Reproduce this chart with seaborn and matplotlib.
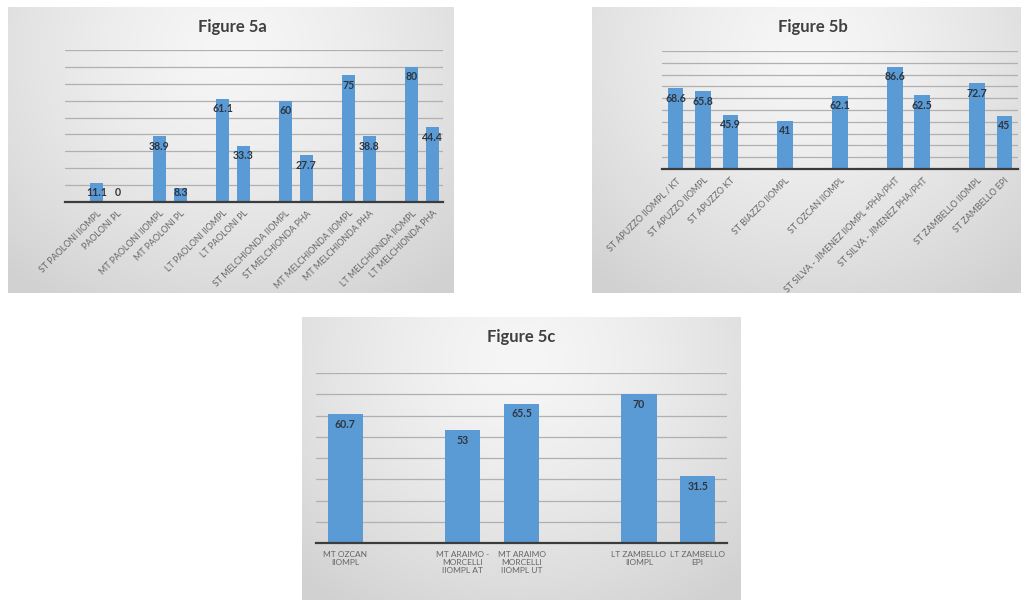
import numpy as np
import pandas as pd
import matplotlib
matplotlib.use("Agg")
import matplotlib.pyplot as plt
import seaborn as sns

# ---------------- data ----------------
labels_a = ["ST PAOLONI IIOMPL", "PAOLONI PL",
            "MT PAOLONI IIOMPL", "MT PAOLONI PL",
            "LT PAOLONI IIOMPL", "LT PAOLONI PL",
            "ST MELCHIONDA IIOMPL", "ST MELCHIONDA PHA",
            "MT MELCHIONDA IIOMPL", "MT MELCHIONDA PHA",
            "LT MELCHIONDA IIOMPL", "LT MELCHIONDA PHA"]
values_a = [11.1, 0, 38.9, 8.3, 61.1, 33.3, 60, 27.7, 75, 38.8, 80, 44.4]
value_text_a = ["11.1", "0", "38.9", "8.3", "61.1", "33.3", "60", "27.7", "75", "38.8", "80", "44.4"]
# category order (blank slots separate the groups)
order_a = ["", labels_a[0], labels_a[1], " ", labels_a[2], labels_a[3],
           "  ", labels_a[4], labels_a[5], "   ", labels_a[6], labels_a[7],
           "    ", labels_a[8], labels_a[9], "     ", labels_a[10], labels_a[11]]

labels_b = ["ST APUZZO IIOMPL / KT", "ST APUZZO IIOMPL", "ST APUZZO KT",
            "ST BIAZZO IIOMPL", "ST OZCAN IIOMPL",
            "ST SILVA - JIMENEZ IIOMPL +PHA/PHT", "ST SILVA - JIMENEZ PHA/PHT",
            "ST ZAMBELLO IIOMPL", "ST ZAMBELLO EPI"]
values_b = [68.6, 65.8, 45.9, 41, 62.1, 86.6, 62.5, 72.7, 45]
value_text_b = ["68.6", "65.8", "45.9", "41", "62.1", "86.6", "62.5", "72.7", "45"]
order_b = [labels_b[0], labels_b[1], labels_b[2], "", labels_b[3], " ",
           labels_b[4], "  ", labels_b[5], labels_b[6], "   ", labels_b[7], labels_b[8]]

labels_c = ["MT OZCAN\nIIOMPL", "MT ARAIMO -\nMORCELLI\nIIOMPL AT",
            "MT ARAIMO\nMORCELLI\nIIOMPL UT", "LT ZAMBELLO\nIIOMPL", "LT ZAMBELLO\nEPI"]
values_c = [60.7, 53, 65.5, 70, 31.5]
value_text_c = ["60.7", "53", "65.5", "70", "31.5"]
order_c = [labels_c[0], "", labels_c[1], labels_c[2], " ", labels_c[3], labels_c[4]]

titles = ["Figure 5a", "Figure 5b", "Figure 5c"]
ymax = [90, 100, 80]

# ---------------- style ----------------
sns.set_style("white")
plt.rcParams["font.family"] = ["Lato", "DejaVu Sans"]

W, H = 1021, 601
fig = plt.figure(figsize=(W / 100, H / 100), dpi=100)
fig.patch.set_facecolor("white")

BAR = "#5b9bd5"
TXT = "#2e3540"
TICK = "#666666"


def rect(x0, y0, x1, y1):
    return [x0 / W, 1 - y1 / H, (x1 - x0) / W, (y1 - y0) / H]


def panel_bg(x0, y0, x1, y1):
    bg = fig.add_axes(rect(x0, y0, x1, y1), zorder=0)
    ny, nx = 200, 300
    yy, xx = np.mgrid[0:1:ny * 1j, 0:1:nx * 1j]
    d = np.sqrt(((xx - 0.5) / 0.75) ** 2 + ((yy - 0.15) / 1.05) ** 2)
    d = np.clip(d, 0, 1)
    lo, hi = 0.965, 0.82
    img = lo + (hi - lo) * d ** 1.4
    rgb = np.dstack([img, img, img])
    bg.imshow(rgb, aspect="auto", extent=(0, 1, 1, 0), interpolation="bilinear")
    bg.set_axis_off()
    return bg


def draw(ax, labels, values, vtexts, order, ym, width, rotate, title, title_xy, tsize):
    df = pd.DataFrame({"cat": labels, "val": values})
    sns.barplot(data=df, x="cat", y="val", order=order, color=BAR,
                saturation=1, width=width, ax=ax, zorder=3)
    for p in ax.patches:
        p.set_edgecolor("none")
    n = len(order)
    ax.set_xlim(-0.5, n - 0.5)
    ax.set_ylim(0, ym)
    ax.set_facecolor("none")
    ax.set_yticks(np.arange(10, ym + 1, 10))
    ax.set_yticklabels([])
    ax.tick_params(axis="y", length=0)
    ax.yaxis.grid(True, color="#b0b0b0", lw=0.9)
    ax.xaxis.grid(False)
    ax.set_axisbelow(True)
    for s in ["top", "left", "right"]:
        ax.spines[s].set_visible(False)
    ax.spines["bottom"].set_color("#3c3c3c")
    ax.spines["bottom"].set_linewidth(1.6)
    ax.spines["bottom"].set_zorder(4)
    ax.set_xlabel("")
    ax.set_ylabel("")
    ax.tick_params(axis="x", length=0, colors=TICK, labelsize=tsize)
    ax.tick_params(axis="x", pad=5 if rotate else 6)
    for t in ax.get_xticklabels():
        t.set_color(TICK)
        if rotate:
            t.set_rotation(45)
            t.set_ha("right")
            t.set_rotation_mode("anchor")
        else:
            t.set_ha("center")
            t.set_va("top")
            t.set_linespacing(1.1)
    # value labels (inside end, clamped above the axis for short bars)
    ppu = ax.transData.transform((0, 1))[1] - ax.transData.transform((0, 0))[1]
    for lab, v, s in zip(labels, values, vtexts):
        xi = order.index(lab)
        ytxt = max(v - 10 / ppu, 9 / ppu)
        ax.text(xi, ytxt, s, ha="center", va="center", fontsize=7.6,
                fontweight="bold", color=TXT, zorder=5)
    fig.text(title_xy[0] / W, 1 - title_xy[1] / H, title, ha="center", va="center",
             fontsize=12, fontweight="bold", color="#404040", zorder=6)


# Panel 5a
panel_bg(8, 7, 454, 293)
ax_a = fig.add_axes(rect(65, 50, 443, 202), zorder=2)
draw(ax_a, labels_a, values_a, value_text_a, order_a, ymax[0], 0.6, True,
     titles[0], (232, 27), 6.4)

# Panel 5b
panel_bg(592, 7, 1020, 293)
ax_b = fig.add_axes(rect(662, 51, 1018, 169), zorder=2)
draw(ax_b, labels_b, values_b, value_text_b, order_b, ymax[1], 0.57, True,
     titles[1], (813, 27), 6.4)

# Panel 5c
panel_bg(302, 317, 740, 600)
ax_c = fig.add_axes(rect(316, 373, 727, 543), zorder=2)
draw(ax_c, labels_c, values_c, value_text_c, order_c, ymax[2], 0.6, False,
     titles[2], (521, 337), 6.0)

fig.savefig("out.png", dpi=100, facecolor="white")
